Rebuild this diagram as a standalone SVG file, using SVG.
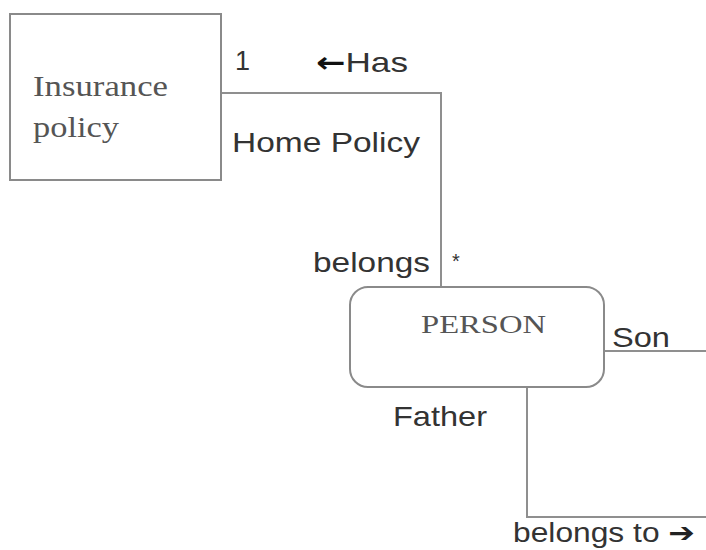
<svg xmlns="http://www.w3.org/2000/svg" width="706" height="550" viewBox="0 0 706 550">
<style>
.box{fill:#fff;stroke:#8a8a8a;stroke-width:2}
.ln{fill:none;stroke:#8f8f8f;stroke-width:2}
.serif{font-family:"Liberation Serif","DejaVu Serif",serif;fill:#555}
.sans{font-family:"Liberation Sans",Arial,sans-serif;fill:#333}
</style>
<rect width="706" height="550" fill="#fff"/>
<g id="connectors">
<polyline class="ln" points="221,93 441,93 441,287"/>
<line class="ln" x1="604" y1="351" x2="706" y2="351"/>
<polyline class="ln" points="527,387 527,517 706,517"/>
</g>
<g id="insurance-policy">
<rect class="box" x="10" y="14" width="211" height="166"/>
<text class="serif" x="33" y="96" font-size="29" textLength="135" lengthAdjust="spacingAndGlyphs">Insurance</text>
<text class="serif" x="33" y="137" font-size="29" textLength="86" lengthAdjust="spacingAndGlyphs">policy</text>
</g>
<g id="person">
<rect class="box" x="350" y="287" width="254" height="100" rx="18"/>
<text class="serif" x="421" y="333" font-size="26" textLength="125" lengthAdjust="spacingAndGlyphs">PERSON</text>
</g>
<g id="labels">
<text class="sans" x="235" y="70" font-size="27">1</text>
<text class="sans" x="316" y="72" font-size="28" textLength="92" lengthAdjust="spacingAndGlyphs"><tspan font-weight="bold" fill="#111" font-family="DejaVu Sans,sans-serif">←</tspan>Has</text>
<text class="sans" x="232" y="152" font-size="28" textLength="188" lengthAdjust="spacingAndGlyphs">Home Policy</text>
<text class="sans" x="313" y="272" font-size="28" textLength="117" lengthAdjust="spacingAndGlyphs">belongs</text>
<text class="sans" x="452" y="268" font-size="20">*</text>
<text class="sans" x="612" y="347" font-size="28" fill="#556" textLength="58" lengthAdjust="spacingAndGlyphs">Son</text>
<text class="sans" x="393" y="426" font-size="28" textLength="94" lengthAdjust="spacingAndGlyphs">Father</text>
<text class="sans" x="513" y="542" font-size="27" fill="#666" textLength="182" lengthAdjust="spacingAndGlyphs">belongs to <tspan font-weight="bold" fill="#222" font-family="DejaVu Sans,sans-serif">➔</tspan></text>
</g>
</svg>
